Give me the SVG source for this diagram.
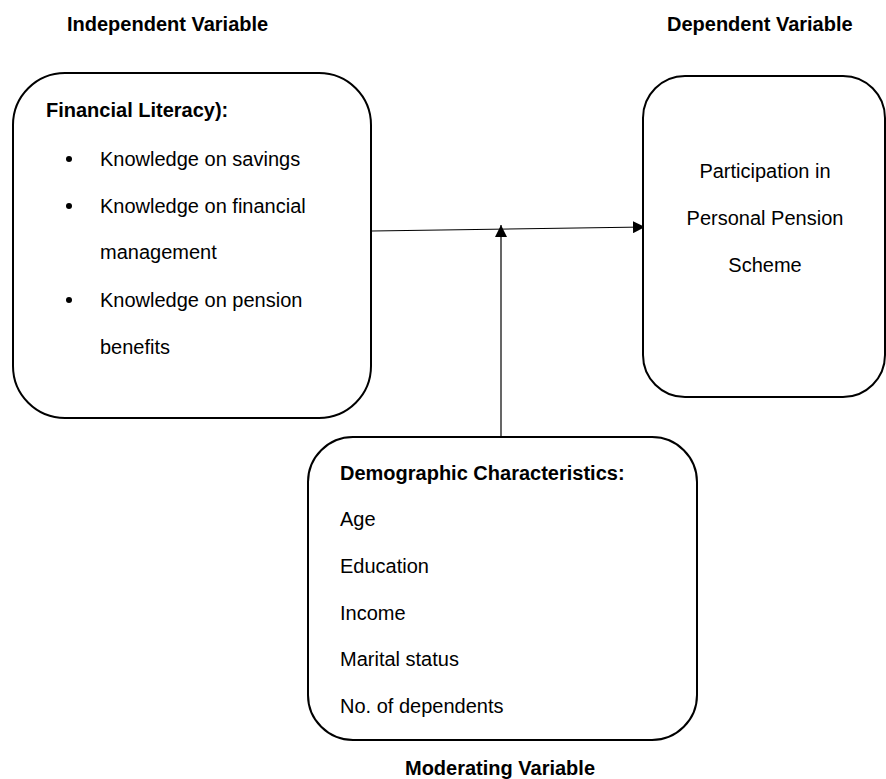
<svg xmlns="http://www.w3.org/2000/svg" width="886" height="779" viewBox="0 0 886 779">
<defs>
<style>
text{font-family:"Liberation Sans",Arial,sans-serif;font-size:20px;fill:#000}
.b{font-weight:bold}
.box{fill:#fff;stroke:#000;stroke-width:2}
.con{stroke:#000;stroke-width:1.2;fill:none}
</style>
<marker id="ah" viewBox="0 0 10 10" refX="10" refY="5" markerWidth="12" markerHeight="12" markerUnits="userSpaceOnUse" orient="auto">
<path d="M0,0 L10,5 L0,10 z" fill="#000"/>
</marker>
</defs>
<rect width="886" height="779" fill="#fff"/>
<text class="b" x="67" y="31">Independent Variable</text>
<text class="b" x="667" y="31">Dependent Variable</text>
<text class="b" x="500" y="775" text-anchor="middle">Moderating Variable</text>
<g id="connectors">
<line class="con" x1="372" y1="231" x2="645" y2="227" marker-end="url(#ah)"/>
<line class="con" x1="501" y1="437" x2="501" y2="225" marker-end="url(#ah)"/>
</g>
<g id="independent">
<rect class="box" x="13" y="73" width="358" height="345" rx="52" ry="52"/>
<text class="b" x="46" y="117">Financial Literacy):</text>
<circle cx="69" cy="159" r="3"/>
<circle cx="69" cy="206" r="3"/>
<circle cx="69" cy="300" r="3"/>
<text x="100" y="166">Knowledge on savings</text>
<text x="100" y="213">Knowledge on financial</text>
<text x="100" y="259">management</text>
<text x="100" y="307">Knowledge on pension</text>
<text x="100" y="354">benefits</text>
</g>
<g id="dependent">
<rect class="box" x="643" y="76" width="242" height="321" rx="42" ry="42"/>
<text x="765" y="178" text-anchor="middle">Participation in</text>
<text x="765" y="225" text-anchor="middle">Personal Pension</text>
<text x="765" y="272" text-anchor="middle">Scheme</text>
</g>
<g id="moderating">
<rect class="box" x="308" y="437" width="389" height="303" rx="45" ry="45"/>
<text class="b" x="340" y="480">Demographic Characteristics:</text>
<text x="340" y="526">Age</text>
<text x="340" y="573">Education</text>
<text x="340" y="620">Income</text>
<text x="340" y="666">Marital status</text>
<text x="340" y="713">No. of dependents</text>
</g>
</svg>
